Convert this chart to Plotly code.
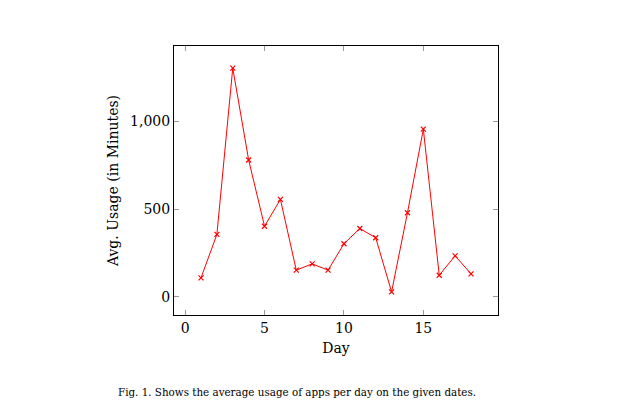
import plotly.graph_objects as go

days = list(range(1, 19))
usage = [107, 355, 1305, 780, 402, 555, 151, 187, 151, 302, 389, 336, 27, 479, 956, 122, 233, 130]
x_ticks = [0, 5, 10, 15]
y_ticks = [0, 500, 1000]
y_tick_labels = ["0", "500", "1,000"]
caption = "Fig. 1. Shows the average usage of apps per day on the given dates."

font_family = "DejaVu Serif"

# page body has an 8px margin; figure size compensates
W, H = 613, 412
L, R, T, B = 166, 123, 38, 105

fig = go.Figure()
fig.add_trace(go.Scatter(
    x=days, y=usage, mode="lines+markers",
    line=dict(color="red", width=1),
    marker=dict(symbol="x-thin", size=5, color="red", line=dict(color="red", width=1.2)),
    showlegend=False,
))

axis_common = dict(
    showgrid=False, zeroline=False, showline=True, linecolor="black", linewidth=1,
    mirror="ticks", ticks="inside", ticklen=5, tickcolor="#999999", tickwidth=1,
    tickfont=dict(family=font_family, size=14, color="black"),
)

fig.update_layout(
    width=W, height=H,
    margin=dict(l=L, r=R, t=T, b=B),
    paper_bgcolor="white", plot_bgcolor="white",
    font=dict(family=font_family, color="black"),
    xaxis=dict(range=[-0.7, 19.7], tickvals=x_ticks, ticktext=[str(v) for v in x_ticks],
               title=dict(text="Day", font=dict(size=14), standoff=8), **axis_common),
    yaxis=dict(range=[-105, 1431], tickvals=y_ticks, ticktext=y_tick_labels,
               title=dict(text="Avg. Usage (in Minutes)", font=dict(size=14), standoff=8), **axis_common),
)
pw, ph = W - L - R, H - T - B
fig.add_annotation(text=caption, x=(297 - 8 - L) / pw, xref="paper",
                   y=(H - B - (392 - 8)) / ph, yref="paper",
                   xanchor="center", yanchor="middle", showarrow=False,
                   font=dict(size=11.5, family="DejaVu Serif Condensed"))

fig.write_html("out.html")
